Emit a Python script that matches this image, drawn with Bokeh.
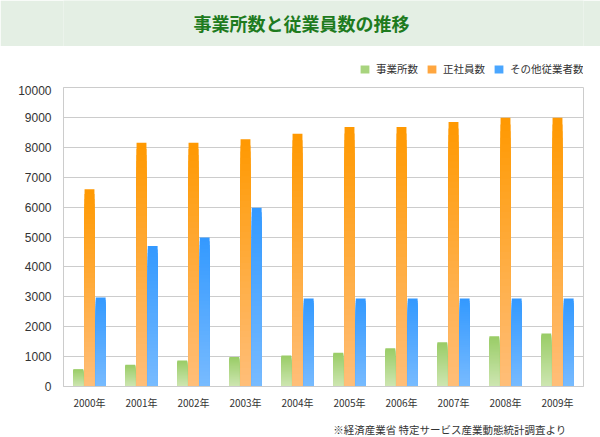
from bokeh.plotting import figure
from bokeh.models import (ColumnDataSource, FactorRange, Label, Legend, LegendItem,
                          FixedTicker, Range1d)
from bokeh.layouts import column
from bokeh.transform import dodge
from bokeh.embed import file_html
from bokeh.resources import INLINE

# ---- data ----
years = ["2000年", "2001年", "2002年", "2003年", "2004年",
         "2005年", "2006年", "2007年", "2008年", "2009年"]
offices = [580, 730, 870, 990, 1040, 1130, 1280, 1480, 1680, 1770]
regular = [6600, 8150, 8150, 8270, 8450, 8680, 8680, 8850, 8990, 8990]
others = [2980, 4700, 4980, 5980, 2940, 2940, 2940, 2940, 2940, 2940]
series_names = ["事業所数", "正社員数", "その他従業者数"]
y_ticks = [0, 1000, 2000, 3000, 4000, 5000, 6000, 7000, 8000, 9000, 10000]
title_text = "事業所数と従業員数の推移"
source_note = "※経済産業省 特定サービス産業動態統計調査より"

# ---- styles ----
W = 600
LEFT, RIGHT = 63, 17
BAND = "#E4EFE4"
TITLE_COLOR = "#1E7B1E"
GRID = "#CCCCCC"
TEXT = "#333333"
JP = "Noto Sans CJK JP"
grads = [((153, 204, 102), (206, 230, 178)),   # green top / bottom
         ((255, 153, 0), (255, 190, 122)),     # orange
         ((51, 153, 255), (120, 187, 255))]    # blue
legend_cols = ["#A8D47E", "#FFA63F", "#4AA6FF"]
N = 40


def blank(height, bg="white"):
    f = figure(width=W, height=height, output_backend="svg", toolbar_location=None,
               x_range=Range1d(LEFT, W - RIGHT), y_range=Range1d(0, height),
               min_border_left=LEFT, min_border_right=RIGHT,
               min_border_top=0, min_border_bottom=0)
    f.background_fill_color = bg
    f.border_fill_color = bg
    f.outline_line_color = None
    f.axis.visible = False
    f.grid.visible = False
    return f


# ---- title band ----
band = blank(46, BAND)
band.add_layout(Label(x=301, y=24, text=title_text, text_align="center",
                      text_baseline="middle", text_font=JP, text_font_style="bold",
                      text_font_size="18px", text_color=TITLE_COLOR))

# ---- legend strip ----
leg = blank(39)
items = []
for name, lc in zip(series_names, legend_cols):
    dummy = leg.vbar(x=[-1000], top=[0], bottom=[0], width=1, fill_color=lc,
                     line_color=None)
    items.append(LegendItem(label=name, renderers=[dummy]))
legend = Legend(items=items, orientation="horizontal", location=(359 - LEFT, 9),
                padding=0, margin=0, spacing=8, glyph_width=11, glyph_height=10,
                label_height=12, label_standoff=6, label_text_font=JP,
                label_text_font_size="10.5px", label_text_color=TEXT,
                background_fill_alpha=0, border_line_color=None)
leg.add_layout(legend)

# ---- main chart ----
p = figure(width=W, height=330, output_backend="svg", toolbar_location=None,
           x_range=FactorRange(*years), y_range=Range1d(0, 10000),
           min_border_left=LEFT, min_border_right=RIGHT, min_border_top=2,
           min_border_bottom=29)
p.outline_line_color = GRID
p.background_fill_color = "white"
p.xgrid.grid_line_color = None
p.ygrid.grid_line_color = GRID
p.yaxis.ticker = FixedTicker(ticks=y_ticks)
for ax in (p.xaxis, p.yaxis):
    ax.axis_line_color = GRID
    ax.major_tick_line_color = None
    ax.minor_tick_line_color = None
    ax.major_tick_out = 0
    ax.major_tick_in = 0
    ax.major_label_text_color = TEXT
p.yaxis.major_label_text_font = "Liberation Sans"
p.yaxis.major_label_text_font_size = "12px"
p.yaxis.major_label_standoff = 12
p.xaxis.major_label_text_font = JP
p.xaxis.major_label_text_font_size = "10px"
p.xaxis.major_label_standoff = 8


def mix(a, b, t):
    return "#%02x%02x%02x" % tuple(round(b[i] + (a[i] - b[i]) * t) for i in range(3))


offsets = [-0.215, 0.0, 0.215]
for vals, (ctop, cbot), off in zip([offices, regular, others], grads, offsets):
    xs, tops, cols = [], [], []
    for k in range(N):
        frac = (N - k) / N
        col = mix(ctop, cbot, (N - k - 0.5) / N)
        for yv, v in zip(years, vals):
            xs.append(yv)
            tops.append(v * frac)
            cols.append(col)
    src = ColumnDataSource(dict(x=xs, top=tops, color=cols))
    p.vbar(x=dodge("x", off, range=p.x_range), top="top", bottom=0, width=0.19,
           fill_color="color", line_color=None, source=src)

# ---- source note ----
note = blank(22)
note.add_layout(Label(x=566, y=8, text=source_note, text_align="right",
                      text_baseline="middle", text_font=JP,
                      text_font_size="10.5px", text_color=TEXT))

layout = column(band, leg, p, note, spacing=0)
open("out.html", "w").write(file_html(layout, INLINE))
